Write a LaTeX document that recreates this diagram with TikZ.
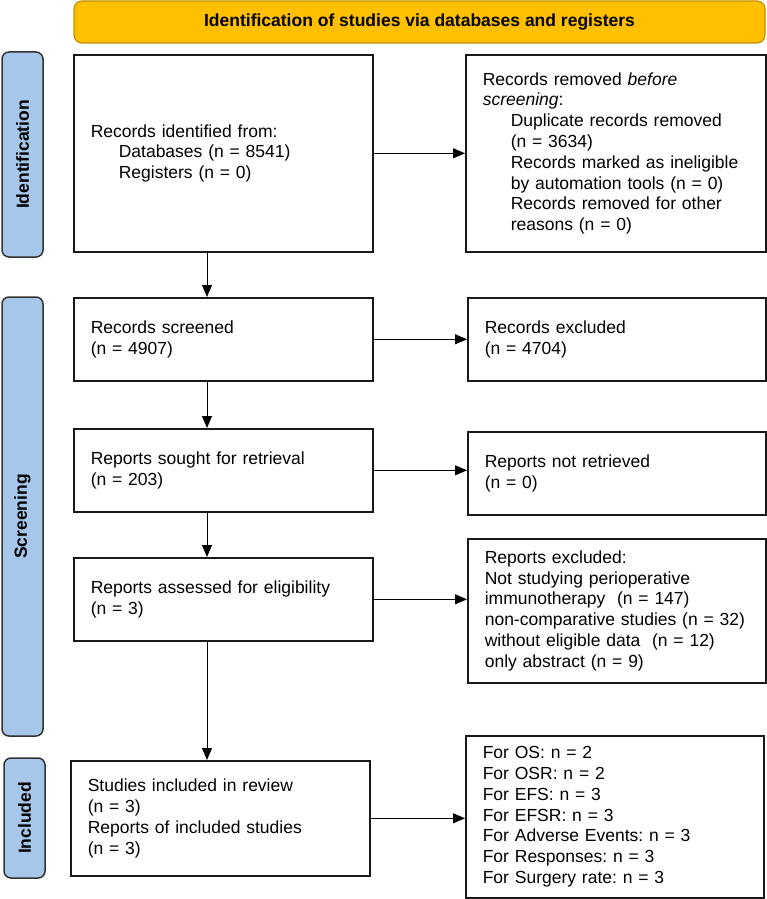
\documentclass[tikz,border=0pt]{standalone}
\usepackage{fontspec}
\setmainfont{Liberation Sans}
\usetikzlibrary{arrows.meta}
\definecolor{bannerfill}{RGB}{255,192,0}
\definecolor{bannerline}{RGB}{191,144,0}
\definecolor{barfill}{RGB}{166,198,234}
\definecolor{barline}{RGB}{50,50,50}
\definecolor{boxline}{RGB}{25,25,25}
\newcommand{\ind}{\hspace*{28pt}}
\newcommand{\fs}{\fontsize{17.5}{20.8}\selectfont}
\frenchspacing
\hyphenpenalty=10000
\tikzset{
  pbox/.style={draw=boxline, line width=1.6pt, anchor=north west, inner xsep=17pt, inner ysep=0pt, align=left, font=\fs},
  wide/.style={minimum width=299pt, text width=265pt},
  wider/.style={minimum width=298pt, text width=264pt},
  sidebar/.style={draw=barline, fill=barfill, line width=1.5pt, rounded corners=7pt, rotate=90, inner sep=0pt, font=\fs\bfseries},
  banner/.style={draw=bannerline, fill=bannerfill, line width=1.2pt, rounded corners=8pt, inner sep=0pt, font=\fs\bfseries},
  arr/.style={draw=black, line width=1pt, -{Triangle[length=12pt,width=10pt]}}
}
\begin{document}
\begin{tikzpicture}[x=1pt,y=-1pt]
\useasboundingbox (0,0) rectangle (767,899);
% banner
\node[banner, minimum width=691pt, minimum height=42pt] (ban) at (419.5,22) {Identification of studies via databases and registers};
% side bars
\node[sidebar, minimum width=205pt, minimum height=41pt] (idbar) at (22.5,154.5) {Identification};
\node[sidebar, minimum width=439pt, minimum height=41pt] (scrbar) at (22.5,516.5) {Screening};
\node[sidebar, minimum width=120pt, minimum height=41pt] (incbar) at (24.5,818) {Included};
% boxes
\node[pbox, wide, minimum height=197pt] (recid) at (73,54) {Records identified from:\\\ind Databases (n = 8541)\\\ind Registers (n = 0)};
\node[pbox, minimum width=300pt, text width=266pt, minimum height=197pt] (recrm) at (465,54) {Records removed \textit{before}\\\textit{screening}:\\\ind Duplicate records removed\\\ind (n = 3634)\\\ind Records marked as ineligible\\\ind by automation tools (n = 0)\\\ind Records removed for other\\\ind reasons (n = 0)};
\node[pbox, wide, minimum height=83pt] (scr) at (73,297) {Records screened\\(n = 4907)};
\node[pbox, wider, minimum height=83pt] (exc) at (467,297) {Records excluded\\(n = 4704)};
\node[pbox, wide, minimum height=83pt] (sought) at (73,428) {Reports sought for retrieval\\(n = 203)};
\node[pbox, wider, minimum height=83pt] (notret) at (467,431) {Reports not retrieved\\(n = 0)};
\node[pbox, wide, minimum height=83pt] (assess) at (73,557) {Reports assessed for eligibility\\(n = 3)};
\node[pbox, wider, minimum height=144pt] (repexc) at (467,538) {Reports excluded:\\Not studying perioperative\\immunotherapy~ (n = 147)\\non-comparative studies (n = 32)\\without eligible data~ (n = 12)\\only abstract (n = 9)};
\node[pbox, wide, minimum height=115pt] (studies) at (70,760) {Studies included in review\\(n = 3)\\Reports of included studies\\(n = 3)};
\node[pbox, wider, minimum height=162pt] (final) at (465,735) {For OS: n = 2\\For OSR: n = 2\\For EFS: n = 3\\For EFSR: n = 3\\For Adverse Events: n = 3\\For Responses: n = 3\\For Surgery rate: n = 3};
% arrows
\coordinate (ax) at (207,0);
\draw[arr] (recid.east) -- (recid.east -| recrm.west);
\draw[arr] (scr.east) -- (scr.east -| exc.west);
\draw[arr] (sought.east) -- (sought.east -| notret.west);
\draw[arr] (assess.east) -- (assess.east -| repexc.west);
\draw[arr] (studies.east) -- (studies.east -| final.west);
\draw[arr] (recid.south -| ax) -- (scr.north -| ax);
\draw[arr] (scr.south -| ax) -- (sought.north -| ax);
\draw[arr] (sought.south -| ax) -- (assess.north -| ax);
\draw[arr] (assess.south -| ax) -- (studies.north -| ax);
\end{tikzpicture}
\end{document}
